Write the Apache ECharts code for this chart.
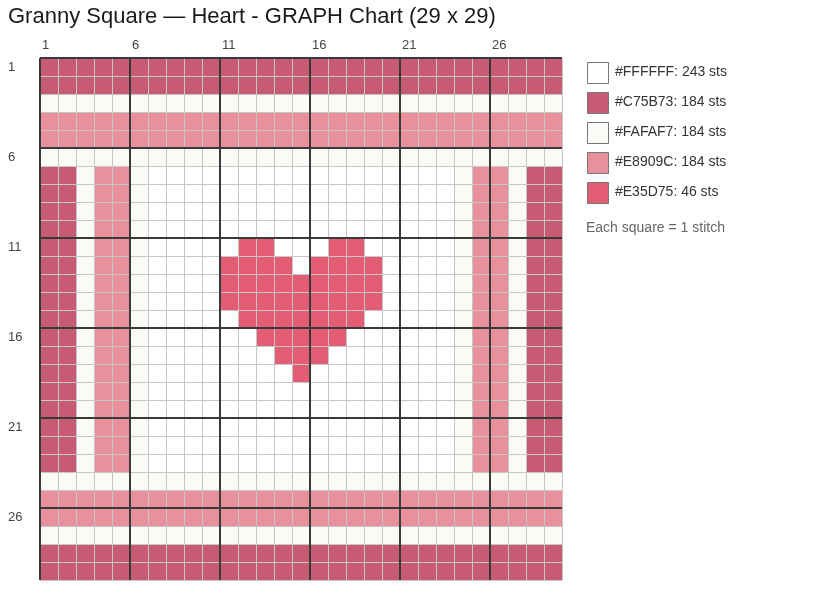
<!DOCTYPE html>
<html><head><meta charset="utf-8">
<script src="https://cdn.jsdelivr.net/npm/echarts@6/dist/echarts.min.js"></script>
<style>html,body{margin:0;padding:0;background:#fff}#c{width:833px;height:593px}</style>
</head><body><div id="c"></div>
<script>
const chartTitle = 'Granny Square \u2014 Heart - GRAPH Chart (29 x 29)';
const colorKeys = ['W', 'D', 'O', 'L', 'H'];
const colorHex = ['#FFFFFF', '#C75B73', '#FAFAF7', '#E8909C', '#E35D75'];
const stitchCounts = [243, 184, 184, 184, 46];
const footnote = 'Each square = 1 stitch';
// 29 rows x 29 columns, grouped by 5 columns (spaces ignored)
const rows = [
  'DDDDD DDDDD DDDDD DDDDD DDDDD DDDD',
  'DDDDD DDDDD DDDDD DDDDD DDDDD DDDD',
  'OOOOO OOOOO OOOOO OOOOO OOOOO OOOO',
  'LLLLL LLLLL LLLLL LLLLL LLLLL LLLL',
  'LLLLL LLLLL LLLLL LLLLL LLLLL LLLL',
  'OOOOO OOOOO OOOOO OOOOO OOOOO OOOO',
  'DDOLL OWWWW WWWWW WWWWW WWWOL LODD',
  'DDOLL OWWWW WWWWW WWWWW WWWOL LODD',
  'DDOLL OWWWW WWWWW WWWWW WWWOL LODD',
  'DDOLL OWWWW WWWWW WWWWW WWWOL LODD',
  'DDOLL OWWWW WHHWW WHHWW WWWOL LODD',
  'DDOLL OWWWW HHHHW HHHHW WWWOL LODD',
  'DDOLL OWWWW HHHHH HHHHW WWWOL LODD',
  'DDOLL OWWWW HHHHH HHHHW WWWOL LODD',
  'DDOLL OWWWW WHHHH HHHWW WWWOL LODD',
  'DDOLL OWWWW WWHHH HHWWW WWWOL LODD',
  'DDOLL OWWWW WWWHH HWWWW WWWOL LODD',
  'DDOLL OWWWW WWWWH WWWWW WWWOL LODD',
  'DDOLL OWWWW WWWWW WWWWW WWWOL LODD',
  'DDOLL OWWWW WWWWW WWWWW WWWOL LODD',
  'DDOLL OWWWW WWWWW WWWWW WWWOL LODD',
  'DDOLL OWWWW WWWWW WWWWW WWWOL LODD',
  'DDOLL OWWWW WWWWW WWWWW WWWOL LODD',
  'OOOOO OOOOO OOOOO OOOOO OOOOO OOOO',
  'LLLLL LLLLL LLLLL LLLLL LLLLL LLLL',
  'LLLLL LLLLL LLLLL LLLLL LLLLL LLLL',
  'OOOOO OOOOO OOOOO OOOOO OOOOO OOOO',
  'DDDDD DDDDD DDDDD DDDDD DDDDD DDDD',
  'DDDDD DDDDD DDDDD DDDDD DDDDD DDDD'
];
const N = 29;
const majorStep = 5;

const cells = [];
rows.forEach(function (r, ri) {
  const s = r.replace(/ /g, '');
  for (let ci = 0; ci < s.length; ci++) cells.push([ci, ri, colorKeys.indexOf(s[ci])]);
});

const FONT = '"Liberation Sans", Arial, Helvetica, sans-serif';
const chart = echarts.init(document.getElementById('c'), null, { renderer: 'canvas' });

function minorAxis(extra) {
  return Object.assign({
    type: 'value', min: 0, max: N, interval: 1, z: 5,
    axisLine: { show: false }, axisTick: { show: false }, axisLabel: { show: false },
    splitLine: { show: true, lineStyle: { color: '#c6c6c6', width: 1 } }
  }, extra);
}
function majorAxis(extra, label) {
  return Object.assign({
    type: 'value', min: 0, max: N, interval: majorStep, z: 6,
    axisLine: { show: false }, axisTick: { show: false },
    axisLabel: Object.assign({
      show: true, color: '#444', fontSize: 13, fontFamily: FONT,
      showMaxLabel: false,
      formatter: function (v) { return v >= N ? '' : String(v + 1); }
    }, label),
    splitLine: { show: true, showMaxLine: false, lineStyle: { color: '#3a3a3a', width: 2 } }
  }, extra);
}

const graphic = [];
colorHex.forEach(function (c, i) {
  graphic.push({ type: 'rect', shape: { x: 587.5, y: 62.5 + i * 30, width: 21, height: 21 },
    style: { fill: c, stroke: '#777', lineWidth: 1 }, silent: true });
  graphic.push({ type: 'text', x: 615, y: 72 + i * 30,
    style: { text: c + ': ' + stitchCounts[i] + ' sts', font: '14px ' + FONT, fill: '#333', verticalAlign: 'middle' }, silent: true });
});
graphic.push({ type: 'text', x: 586, y: 228,
  style: { text: footnote, font: '14px ' + FONT, fill: '#666', verticalAlign: 'middle' }, silent: true });

chart.setOption({
  animation: false,
  backgroundColor: '#fff',
  title: { text: chartTitle, left: 8, top: 6, padding: 0,
    textStyle: { fontSize: 22, fontWeight: 'normal', color: '#1a1a1a', fontFamily: FONT } },
  grid: { left: 40, top: 58, width: 522, height: 522 },
  xAxis: [
    minorAxis({ position: 'top' }),
    majorAxis({ position: 'top' }, { align: 'left', padding: [0, 0, 0, 2], margin: 6 })
  ],
  yAxis: [
    minorAxis({ inverse: true, position: 'left' }),
    majorAxis({ inverse: true, position: 'left' }, { align: 'left', margin: 32, verticalAlign: 'top', lineHeight: 18 })
  ],
  graphic: graphic,
  series: [{
    type: 'custom', xAxisIndex: 0, yAxisIndex: 0,
    encode: { x: 0, y: 1 },
    data: cells,
    renderItem: function (params, api) {
      const c = api.value(0), r = api.value(1), k = api.value(2);
      const p0 = api.coord([c, r]);
      const p1 = api.coord([c + 1, r + 1]);
      return {
        type: 'rect',
        shape: { x: Math.min(p0[0], p1[0]), y: Math.min(p0[1], p1[1]),
                 width: Math.abs(p1[0] - p0[0]), height: Math.abs(p1[1] - p0[1]) },
        style: { fill: colorHex[k] }
      };
    }
  }]
});
</script>
</body></html>
